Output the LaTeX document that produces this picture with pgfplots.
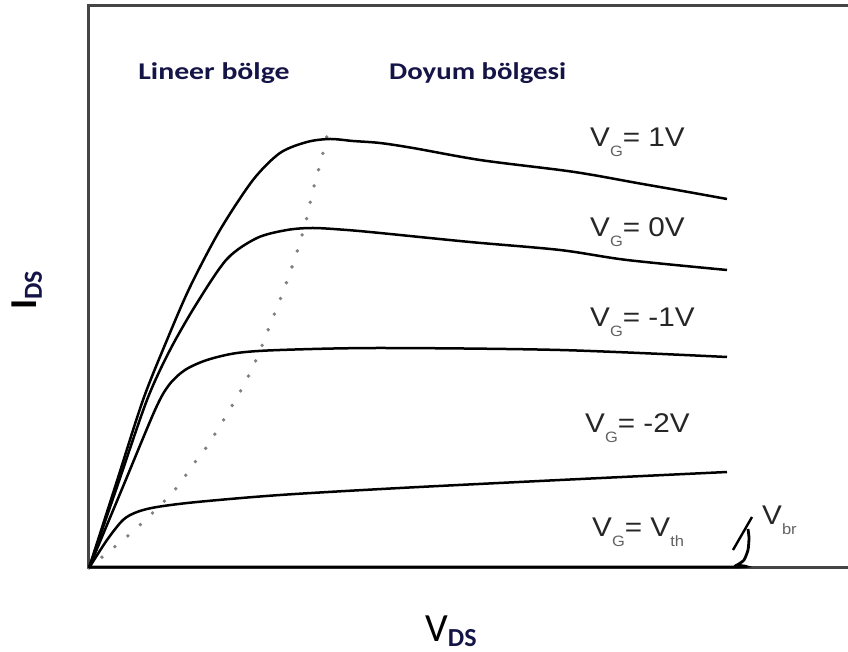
\documentclass[border=0pt]{standalone}
\usepackage{pgfplots}
\pgfplotsset{compat=1.18}
\usepackage{fontspec}
\setmainfont{Liberation Sans}
\newfontfamily\calibri{Carlito}

\definecolor{navy}{rgb}{0.08,0.08,0.28}
\definecolor{framegray}{rgb}{0.27,0.27,0.27}
\definecolor{txtgray}{rgb}{0.15,0.15,0.15}
\definecolor{subgray}{rgb}{0.38,0.38,0.38}
\definecolor{dotgray}{rgb}{0.5,0.5,0.5}

% gate-voltage label: V with a lowered grey subscript
\newcommand{\vg}[2]{{\fontsize{27}{27}\selectfont V\raisebox{-10pt}{\fontsize{15}{15}\selectfont\color{subgray}#1}#2}}

\begin{document}
\begin{tikzpicture}[x=1pt,y=1pt]
\useasboundingbox (-89,-84) rectangle (759,568);
\begin{axis}[
  scale only axis, width=759pt, height=562pt,
  xmin=0, xmax=759, ymin=0, ymax=562,
  hide axis, clip=false,
  curve/.style={black, line width=2.5pt, smooth, tension=0.5, mark=none},
]
% frame: left, top and bottom sides
\draw[framegray, line width=3pt] (rel axis cs:1,1) -- (rel axis cs:0,1) -- (rel axis cs:0,0) -- (rel axis cs:1,0);

% boundary between the linear and saturation regions
\addplot[dotgray, line width=3.8pt, line cap=round, dash pattern=on 0pt off 16.8pt, smooth, tension=0.5, mark=none] coordinates {
 (0,0) (18,15) (34,28) (51,43) (84,76) (109,110) (121,126) (151,176) (168,210)
 (181,243) (194,276) (206,310) (216,343) (224,378) (233,411) (241,445)};

% V_G = 1 V
\addplot[curve] coordinates {
 (0,0) (27,84) (54,168) (78,228) (101,281) (131,338) (164,388) (191,415)
 (218,426) (241,429) (264,427) (291,425) (324,420) (391,408) (471,398)
 (504,393) (548,385) (588,378) (638,369)};
% V_G = 0 V
\addplot[curve] coordinates {
 (0,0) (29,84) (58,168) (81,218) (108,265) (138,309) (168,330) (198,338)
 (224,340) (258,338) (291,335) (381,326) (471,318) (538,308) (638,298)};
% V_G = -1 V
\addplot[curve] coordinates {
 (0,0) (33,79) (66,158) (80,183) (96,198) (118,208) (148,215) (191,218) (291,220)
 (471,218) (638,211)};
% V_G = -2 V
\addplot[curve] coordinates {
 (0,0) (18,28) (34,48) (48,56) (68,61) (108,66) (191,73) (311,80)
 (471,88) (638,96)};
% V_G = V_th, with the breakdown hook
\addplot[curve, line width=2.8pt, tension=0.35] coordinates {
 (0,1) (300,1) (640,1) (648,3) (655,8) (659,18) (660,30) (659,39)};
\addplot[black, line width=2.4pt, mark=none] coordinates {(644,18) (663,51)};

% region names
\node[anchor=base west, font=\calibri\bfseries\fontsize{24}{24}\selectfont, text=navy, xscale=1.24]
  at (axis cs:45,488) {Lineer bölge};
\node[anchor=base west, font=\calibri\bfseries\fontsize{24}{24}\selectfont, text=navy, xscale=1.2]
  at (axis cs:296,488) {Doyum bölgesi};

% curve labels
\begin{scope}[every node/.style={anchor=base west, text=txtgray, inner sep=0pt, xscale=1.1}]
\node at (axis cs:501,421) {\vg{G}{= 1V}};
\node at (axis cs:501,331) {\vg{G}{= 0V}};
\node at (axis cs:501,241) {\vg{G}{= -1V}};
\node at (axis cs:496,135) {\vg{G}{= -2V}};
\node at (axis cs:503,31) {\vg{G}{= V\raisebox{-10pt}{\fontsize{15}{15}\selectfont\color{subgray}th}}};
\node at (axis cs:673,43) {\vg{br}{}};
\end{scope}

% axis titles
\node[anchor=base west, inner sep=0pt] at (axis cs:336,-74)
  {\calibri\fontsize{40}{40}\selectfont V\raisebox{-5pt}{\bfseries\fontsize{26}{26}\selectfont\color{navy}DS}};
\node[anchor=base west, inner sep=0pt, rotate=90] at (axis cs:-52,258)
  {\calibri\bfseries\fontsize{38}{38}\selectfont I\raisebox{-5pt}{\fontsize{26}{26}\selectfont\color{navy}DS}};
\end{axis}
\end{tikzpicture}
\end{document}
